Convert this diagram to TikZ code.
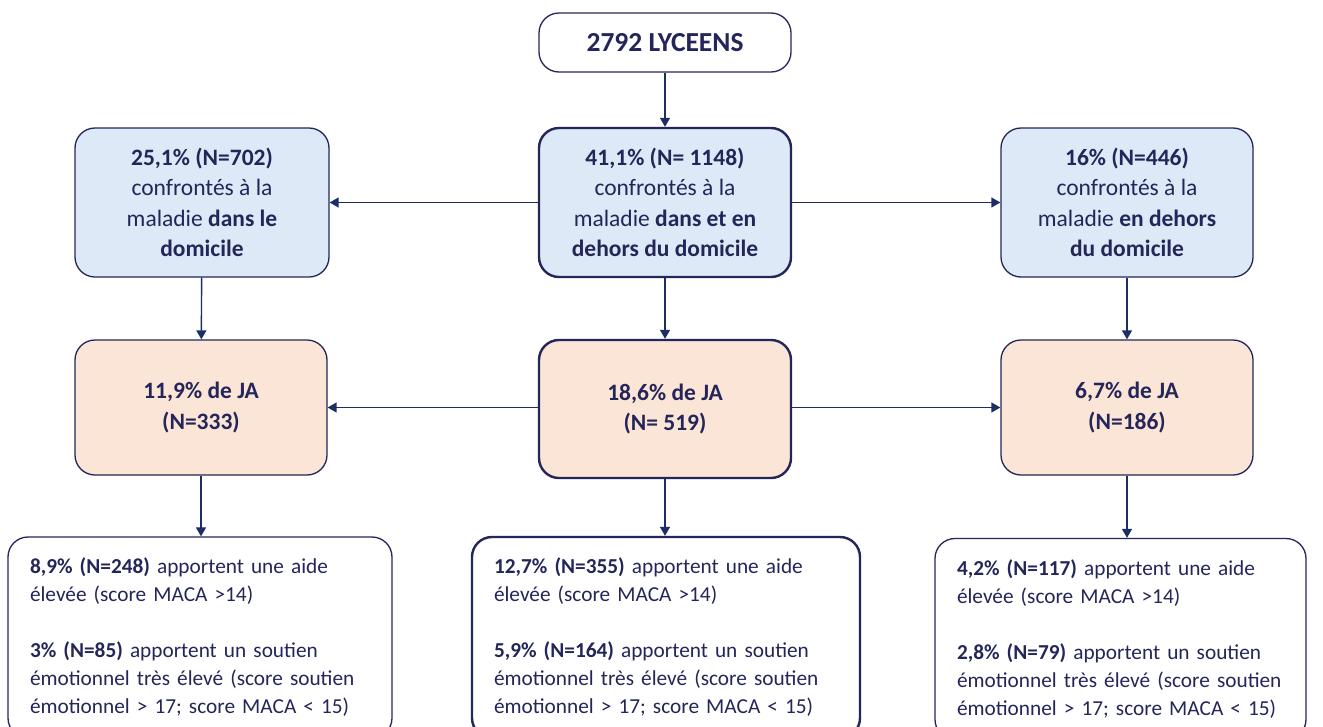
\documentclass[tikz,border=0pt]{standalone}
\usepackage{fontspec}
\setmainfont{Carlito}
\usetikzlibrary{arrows.meta}
\definecolor{navy}{RGB}{36,38,90}
\definecolor{arrowc}{RGB}{28,46,100}
\definecolor{lblue}{RGB}{221,233,246}
\definecolor{peach}{RGB}{251,229,214}
\tikzset{
  box/.style={draw=navy, line width=1.3pt, rounded corners=20pt, text=navy, align=center, font=\fontsize{23.5}{30.5}\selectfont, inner sep=0pt},
  thick box/.style={line width=2.4pt},
  bluebox/.style={box, fill=lblue, minimum width=254pt, minimum height=149pt},
  peachbox/.style={box, fill=peach, minimum width=252pt, minimum height=135pt},
  textbox/.style={box, fill=white, align=left, font=\fontsize{21.3}{28}\selectfont, inner xsep=22pt, minimum height=201pt},
  arr/.style={draw=arrowc, line width=1.4pt, -{Triangle[width=10pt,length=9pt]}}
}
\begin{document}
\begin{tikzpicture}[x=1pt,y=-1pt]
\clip (0,0) rectangle (1323,726);
\fill[white] (0,0) rectangle (1323,726);
% top
\node[box, fill=white, minimum width=252pt, minimum height=59pt, font=\fontsize{27.5}{30}\selectfont\bfseries] (top) at (665,42.5) {2792 LYCEENS};
% row 1
\node[bluebox] (b1) at (202,202.5) {\textbf{25,1\% (N=702)}\\ confrontés à la\\ maladie \textbf{dans le}\\ \textbf{domicile}};
\node[bluebox, thick box, minimum width=252pt] (b2) at (665,202.5) {\textbf{41,1\% (N= 1148)}\\ confrontés à la\\ maladie \textbf{dans et en}\\ \textbf{dehors du domicile}};
\node[bluebox, minimum width=252pt] (b3) at (1127,202.5) {\textbf{16\% (N=446)}\\ confrontés à la\\ maladie \textbf{en dehors}\\ \textbf{du domicile}};
% row 2
\node[peachbox] (p1) at (201,407.5) {\textbf{11,9\% de JA}\\ \textbf{(N=333)}};
\node[peachbox, thick box, minimum height=138pt] (p2) at (665,409) {\textbf{18,6\% de JA}\\ \textbf{(N= 519)}};
\node[peachbox] (p3) at (1127,407.5) {\textbf{6,7\% de JA}\\ \textbf{(N=186)}};
% row 3
\node[textbox, text width=340pt] (t1) at (200,637.5) {\textbf{8,9\% (N=248)} apportent une aide\\ élevée (score MACA >14)\\[28pt] \textbf{3\% (N=85)} apportent un soutien\\ émotionnel très élevé (score soutien\\ émotionnel > 17; score MACA < 15)};
\node[textbox, thick box, text width=344pt] (t2) at (666,637.5) {\textbf{12,7\% (N=355)} apportent une aide\\ élevée (score MACA >14)\\[28pt] \textbf{5,9\% (N=164)} apportent un soutien\\ émotionnel très élevé (score soutien\\ émotionnel > 17; score MACA < 15)};
\node[textbox, text width=327pt] (t3) at (1120.5,639) {\textbf{4,2\% (N=117)} apportent une aide\\ élevée (score MACA >14)\\[28pt] \textbf{2,8\% (N=79)} apportent un soutien\\ émotionnel très élevé (score soutien\\ émotionnel > 17; score MACA < 15)};
% arrows
\draw[arr] (top) -- (b2);
\draw[arr] (b2) -- (b1);
\draw[arr] (b2) -- (b3);
\draw[arr] (b1) -- (p1);
\draw[arr] (b2) -- (p2);
\draw[arr] (b3) -- (p3);
\draw[arr] (p2.west |- p1.east) -- (p1.east);
\draw[arr] (p2.east |- p3.west) -- (p3.west);
\draw[arr] (p1) -- (p1 |- t1.north);
\draw[arr] (p2) -- (p2 |- t2.north);
\draw[arr] (p3) -- (p3 |- t3.north);
\end{tikzpicture}
\end{document}
